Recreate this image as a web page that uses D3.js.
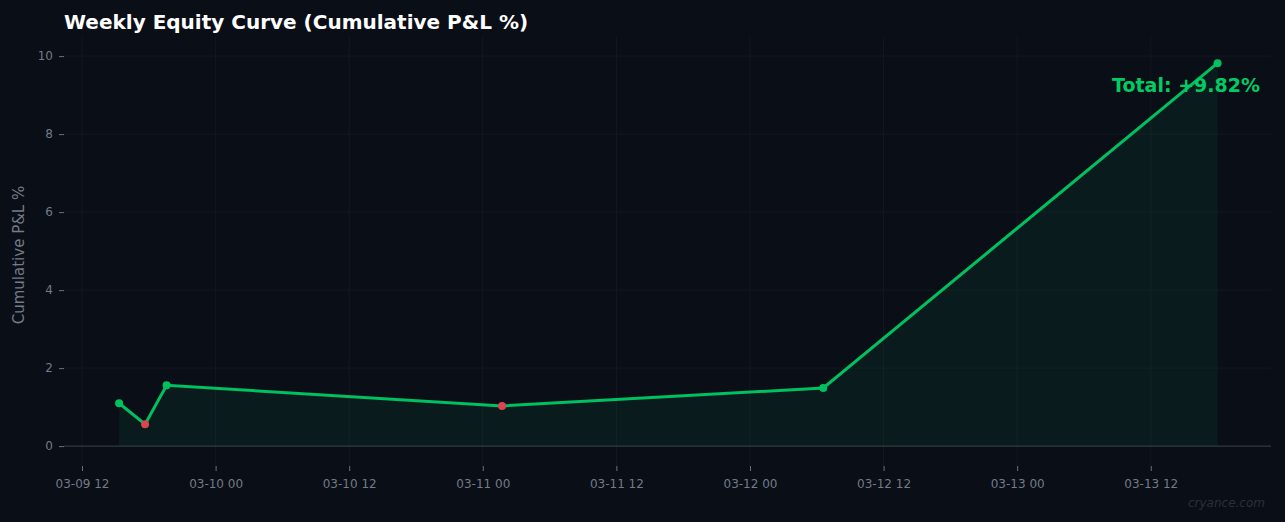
<!DOCTYPE html><html><head><meta charset="utf-8">
<script src="https://cdn.jsdelivr.net/npm/d3@7"></script>
<style>body{margin:0;background:#0a0e16}svg{display:block}text{font-family:"DejaVu Sans",sans-serif}</style></head><body>
<svg id="c" width="1285" height="522"></svg>
<script>
const times=["2025-03-09T15:20","2025-03-09T17:40","2025-03-09T19:36","2025-03-11T01:44","2025-03-12T06:35","2025-03-13T18:00"];
const values=[1.10,0.56,1.56,1.03,1.49,9.82];
const xTicks=["2025-03-09T12:00","2025-03-10T00:00","2025-03-10T12:00","2025-03-11T00:00","2025-03-11T12:00","2025-03-12T00:00","2025-03-12T12:00","2025-03-13T00:00","2025-03-13T12:00"];
const yTicks=[0,2,4,6,8,10];
const P=d3.timeParse("%Y-%m-%dT%H:%M");
const data=times.map((t,i)=>({t:P(t),v:values[i],up:i==0||values[i]>=values[i-1]}));
const svg=d3.select("#c");
const x=d3.scaleTime().domain([P("2025-03-09T10:23"),P("2025-03-13T22:48")]).range([64,1271]);
const y=d3.scaleLinear().domain([-0.51,10.49]).range([466,37]);
const grid=svg.append("g");
xTicks.forEach(t=>grid.append("line").attr("x1",x(P(t))).attr("x2",x(P(t))).attr("y1",37).attr("y2",466).attr("stroke","#141a24").attr("stroke-width",0.8));
yTicks.forEach(v=>grid.append("line").attr("x1",64).attr("x2",1271).attr("y1",y(v)).attr("y2",y(v)).attr("stroke","#141a24").attr("stroke-width",0.8));
svg.append("path").datum(data).attr("fill","#00c060").attr("fill-opacity",0.08)
 .attr("d",d3.area().x(d=>x(d.t)).y0(y(0)).y1(d=>y(d.v)));
svg.append("line").attr("x1",64).attr("x2",1271).attr("y1",y(0)).attr("y2",y(0)).attr("stroke","#3a4048").attr("stroke-width",1);
svg.append("path").datum(data).attr("fill","none").attr("stroke","#00c060").attr("stroke-width",3)
 .attr("d",d3.line().x(d=>x(d.t)).y(d=>y(d.v)));
svg.selectAll("circle").data(data).join("circle").attr("cx",d=>x(d.t)).attr("cy",d=>y(d.v)).attr("r",4)
 .attr("fill",d=>d.up?"#00c060":"#d9464f");
const ya=svg.append("g").attr("transform","translate(64,0)").call(d3.axisLeft(y).tickValues(yTicks).tickSize(5).tickPadding(6));
const xa=svg.append("g").attr("transform","translate(0,466)").call(d3.axisBottom(x).tickValues(xTicks.map(P)).tickFormat(d3.timeFormat("%m-%d %H")).tickSize(5).tickPadding(8));
[ya,xa].forEach(a=>{a.select(".domain").remove();a.selectAll("line").attr("stroke","#6b7380");a.selectAll("text").attr("fill","#737b88").attr("font-size",12)});
svg.append("text").attr("x",64).attr("y",29).attr("fill","#fff").attr("font-size",20).attr("font-weight","bold").text("Weekly Equity Curve (Cumulative P&L %)");
svg.append("text").attr("transform","translate(24,255) rotate(-90)").attr("text-anchor","middle").attr("fill","#737b88").attr("font-size",15).text("Cumulative P&L %");
svg.append("text").attr("x",1260).attr("y",92).attr("text-anchor","end").attr("fill","#00cc66").attr("font-size",19).attr("font-weight","bold").text("Total: +"+values[values.length-1].toFixed(2)+"%");
svg.append("text").attr("x",1265).attr("y",507).attr("text-anchor","end").attr("fill","#2a303a").attr("font-size",12).attr("font-style","italic").text("cryance.com");
</script></body></html>
